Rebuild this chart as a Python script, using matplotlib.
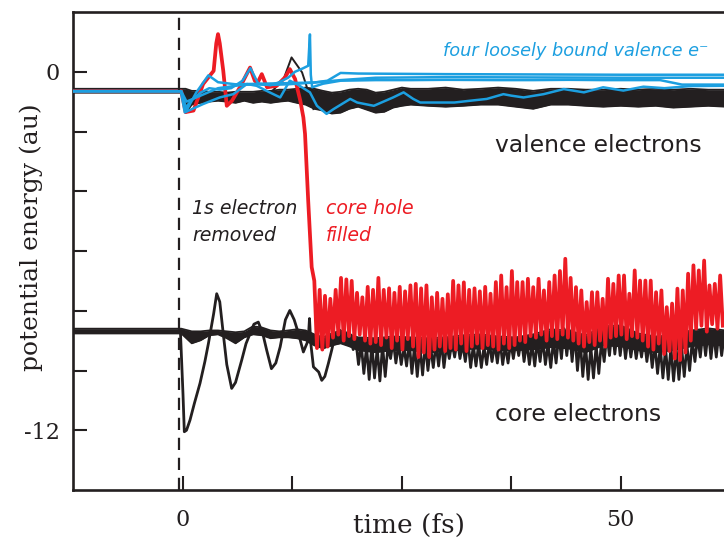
import numpy as np
import matplotlib.pyplot as plt

# ---- data (time in fs, energy in au) ----
# valence band (bundle of many black lines): upper / lower edge
val_t = [-12.6, -0.2, 0.3, 1, 2, 3, 4, 5, 6, 7, 8, 9, 10, 11, 12, 13, 14, 15, 16, 17, 18,
         19, 20, 21, 22, 23, 24, 25, 26, 28, 30, 32, 34, 36, 38, 40, 42, 44, 46, 48,
         50, 52, 54, 56, 58, 60, 62]
val_top = [-0.57, -0.57, -0.57, -0.64, -0.64, -0.67, -0.67, -0.70, -0.67, -0.67, -0.67, -0.64,
           -0.64, -0.60, -0.60, -0.57, -0.53, -0.57, -0.64, -0.70, -0.67, -0.60, -0.57, -0.60,
           -0.70, -0.67, -0.60, -0.53, -0.57, -0.57, -0.53, -0.60, -0.57, -0.53, -0.57, -0.64,
           -0.57, -0.57, -0.60, -0.60, -0.57, -0.60, -0.57, -0.60, -0.57, -0.60, -0.60]
val_bot = [-0.70, -0.70, -1.37, -1.10, -1.04, -1.00, -0.97, -1.00, -1.04, -0.97, -1.04, -1.00,
           -1.04, -1.00, -0.97, -1.04, -1.10, -1.24, -1.30, -1.40, -1.37, -1.24, -1.17, -1.27,
           -1.37, -1.34, -1.20, -1.14, -1.10, -1.14, -1.17, -1.14, -1.10, -1.10, -1.17, -1.24,
           -1.10, -1.10, -1.14, -1.17, -1.14, -1.17, -1.14, -1.20, -1.17, -1.14, -1.17]

# core band: upper / lower edge
core_t = [-12.6, -0.2, 1, 2, 3, 4, 5, 6, 7, 8, 9, 10, 11, 12, 13, 14, 15, 16, 17, 18, 19,
          20, 22, 24, 26, 28, 30, 32, 34, 36, 38, 40, 42, 44, 46, 48, 50, 52, 54, 56, 58, 60, 62]
core_top = [-8.60, -8.60, -8.69, -8.69, -8.66, -8.66, -8.69, -8.72, -8.69, -8.52, -8.56,
            -8.66, -8.69, -8.66, -8.62, -8.66, -8.79, -8.89, -8.76, -8.66, -8.79,
            -8.89, -8.92, -8.86, -8.89, -8.92, -8.89, -8.82, -8.79, -8.86, -8.89,
            -8.79, -8.62, -8.66, -8.82, -8.52, -8.49, -8.76, -8.86, -8.82, -8.66, -8.59, -8.66]
core_bot = [-8.76, -8.76, -9.09, -8.99, -8.82, -8.79, -8.92, -9.09, -8.89, -8.79, -8.82,
            -8.92, -8.89, -8.89, -8.92, -8.99, -9.16, -9.26, -9.16, -9.09, -9.19,
            -9.32, -9.39, -9.32, -9.32, -9.39, -9.36, -9.29, -9.26, -9.32, -9.32,
            -9.29, -9.22, -9.26, -9.39, -9.16, -9.19, -9.32, -9.39, -9.32, -9.19, -9.12, -9.16]

# thin black valence line with the spike near 12 fs
vspike_t = [9.9, 11.5, 12.4, 13.6, 14.1, 14.9]
vspike_E = [-0.74, -0.24, 0.48, -0.02, -0.47, -1.25]

# strongly oscillating core electron (thin black)
cbig_t = [-0.3, 0.0, 0.15, 0.4, 0.8, 1.3, 1.94, 2.5, 2.9, 3.5, 3.85, 4.2, 4.6, 5.0, 5.56,
          6.0, 6.7, 7.2, 7.66, 8.1, 8.6, 9.1, 9.56, 10.1, 10.6, 11.1, 11.7, 12.2, 12.7,
          13.2, 13.75, 14.3, 14.45, 14.6, 14.9, 15.5, 15.85, 16.2, 16.6]
cbig_E = [-8.66, -10.8, -12.05, -12.0, -11.66, -11.1, -10.43, -9.7, -9.1, -8.1, -7.43, -7.7,
          -8.77, -9.8, -10.6, -10.4, -9.66, -9.1, -8.77, -8.45, -8.38, -8.75, -9.32, -9.94,
          -9.75, -9.21, -8.3, -7.99, -8.3, -8.77, -9.38, -8.99, -8.26, -9.1, -9.88, -10.05,
          -10.33, -10.2, -9.77]
# its fast oscillation after 17 fs: troughs / crests, one pair per period
core_t0, core_period = 17.0, 0.61
core_lo = [-9.3, -8.9, -8.9, -9.1, -9.3, -9.8, -10.1, -10.3, -10.25, -10.35,
           -10.2, -9.6, -9.75, -9.8, -9.85, -10.1, -10.2, -10.15, -10.0, -9.9,
           -9.85, -9.9, -9.6, -9.55, -9.6, -9.7, -9.9, -9.85, -9.9, -9.8,
           -9.7, -9.75, -9.8, -9.75, -9.6, -9.5, -9.7, -9.8, -9.85, -9.7,
           -9.8, -9.9, -9.75, -9.6, -9.5, -9.7, -10.0, -10.2, -10.3, -10.25,
           -10.1, -9.7, -9.5, -9.45, -9.5, -9.6, -9.55, -9.6, -9.55, -9.7,
           -9.9, -10.1, -10.25, -10.3, -10.35, -10.3, -10.2, -10.0, -9.7, -9.55,
           -9.5, -9.6, -9.55, -9.5]
core_hi = [-8.9, -8.65, -8.7, -8.8, -9.0, -9.1, -9.2, -9.1, -9.25, -9.15,
           -9.2, -9.0, -9.1, -9.2, -9.05, -9.15, -9.2, -9.1, -9.2, -9.1,
           -9.0, -9.15, -9.05, -8.95, -9.1, -9.0, -9.15, -9.1, -9.2, -9.05,
           -9.1, -9.0, -9.15, -9.05, -9.0, -8.9, -9.05, -9.1, -9.0, -8.95,
           -9.1, -9.0, -8.8, -8.6, -8.65, -8.75, -8.95, -9.1, -9.2, -9.15,
           -9.0, -8.8, -8.55, -8.6, -8.75, -8.85, -8.9, -9.0, -8.9, -9.0,
           -9.1, -9.2, -9.25, -9.2, -9.3, -9.2, -9.15, -9.0, -8.85, -8.7,
           -8.65, -8.75, -8.7, -8.8]

# the electron that fills the core hole (red)
red_t = [-12.6, -0.2, 0.3, 1.2, 2.3, 3.5, 3.8, 4.0, 4.2, 4.6, 5.0, 5.6, 6.5, 7.66, 8.2, 8.5,
         9.0, 9.6, 10.7, 11.65, 12.2, 12.8, 13.4, 13.75, 13.94, 14.3, 14.7]
red_E = [-0.65, -0.65, -1.35, -1.3, -0.41, 0.03, 0.95, 1.26, 0.95, 0.03, -1.14, -0.97, -0.52,
         0.14, -0.3, -0.38, -0.08, -0.52, -0.47, -0.19, 0.09, -0.24, -0.97, -1.53, -2.08,
         -4.31, -6.54]
red_t0, red_period = 15.0, 0.61
red_hi = [-7.0, -7.3, -7.5, -7.6, -7.3, -6.9, -6.95, -7.0, -7.4, -7.55,
          -7.2, -7.3, -6.9, -7.3, -7.25, -7.4, -7.2, -7.35, -7.15, -7.1,
          -7.25, -7.15, -7.55, -7.4, -7.6, -7.45, -7.0, -7.15, -7.05, -7.3,
          -7.25, -7.35, -7.2, -7.43, -7.04, -6.82, -7.21, -6.67, -7.04, -7.04,
          -6.93, -7.21, -6.93, -7.32, -7.04, -6.82, -6.67, -6.26, -6.90, -7.21,
          -7.32, -7.71, -7.38, -7.38, -7.60, -6.93, -7.10, -6.82, -6.82, -7.43,
          -6.65, -6.99, -6.99, -6.99, -7.38, -7.32, -7.88, -7.76, -7.26, -7.32,
          -6.76, -6.48, -6.65, -6.32, -7.15, -7.10, -6.82]
red_lo = [-9.25, -9.3, -9.2, -8.9, -8.8, -9.0, -8.85, -8.95, -8.8, -9.0,
          -9.1, -9.05, -9.15, -8.9, -9.25, -9.0, -9.3, -8.95, -9.2, -9.55,
          -9.4, -9.55, -9.3, -9.2, -9.35, -9.25, -9.3, -9.1, -9.35, -9.2,
          -9.1, -9.25, -9.15, -9.2, -9.3, -9.1, -9.25, -9.15, -9.0, -9.05,
          -8.85, -8.9, -8.8, -9.0, -8.85, -8.95, -8.8, -8.9, -9.0, -9.1,
          -9.2, -9.05, -9.15, -9.0, -9.2, -8.9, -8.85, -8.8, -8.95, -8.85,
          -8.9, -9.0, -9.2, -9.3, -9.1, -9.45, -9.35, -9.6, -9.65, -9.4,
          -9.0, -8.6, -8.5, -8.7, -8.45, -8.6, -8.5]

# four loosely bound valence electrons (blue)
blue1_t = [-12.6, -0.2, 0.3, 1.0, 2.0, 3.0, 4.2, 5.5, 6.8, 7.7, 8.6, 10.0, 11.0, 12.0, 12.8,
           13.6, 14.3, 14.5, 14.6, 14.75, 16, 18, 22, 26, 30, 36, 40, 44, 48, 54.5, 57, 62]
blue1_E = [-0.65, -0.65, -1.2, -0.95, -0.7, -0.55, -0.6, -0.55, -0.3, 0.12, -0.4, -0.45,
           -0.35, -0.2, 0.0, 0.1, 0.2, 1.25, -0.1, -0.52, -0.4, -0.3, -0.28, -0.28, -0.27,
           -0.28, -0.28, -0.27, -0.28, -0.28, -0.43, -0.43]
blue2_t = [-12.6, -0.2, 0.4, 1.5, 2.9, 4.0, 6.0, 9.0, 12.0, 15.0, 16.5, 18.0, 20.0, 30, 40, 50, 62]
blue2_E = [-0.65, -0.65, -1.3, -0.7, -0.12, -0.35, -0.42, -0.40, -0.38, -0.36, -0.3, -0.04,
           -0.06, -0.08, -0.09, -0.10, -0.10]
blue3_t = [-12.6, -0.2, 0.4, 2.0, 4.0, 6.5, 8.0, 10.0, 12.0, 15.0, 18.0, 22.0, 30, 40, 50, 62]
blue3_E = [-0.65, -0.65, -1.0, -0.8, -0.55, -0.45, -0.42, -0.44, -0.42, -0.36, -0.28, -0.2,
           -0.18, -0.19, -0.2, -0.2]
blue4_t = [-12.6, -0.25, 0.2, 2.3, 4.2, 5.75, 7.3, 8.4, 9.9, 11.1, 12.2, 13.0, 14.5, 15.3,
           16.4, 17.2, 19.1, 19.9, 21.8, 24.0, 25.2, 26.3, 27.1, 29, 31, 32.8, 34.7, 36.6,
           37.5, 38.9, 41.2, 43.5, 45.8, 48.0, 50.3, 52.6, 55, 58, 62]
blue4_E = [-0.65, -0.65, -1.36, -1.08, -0.86, -0.75, -0.41, -0.47, -0.69, -0.86, -0.30,
           -0.41, -0.69, -1.14, -1.41, -1.25, -0.91, -1.03, -1.14, -0.86, -0.69, -0.91,
           -1.03, -1.03, -1.03, -0.97, -0.91, -0.75, -0.80, -0.86, -0.75, -0.58, -0.69,
           -0.52, -0.63, -0.50, -0.55, -0.48, -0.47]

x_ticks = [0, 12.5, 25, 37.5, 50]
x_ticklabels = ["0", "", "", "", "50"]
y_ticks = [-12, -10, -8, -6, -4, -2, 0]
y_ticklabels = ["-12", "", "", "", "", "", "0"]
removal_time = -0.42

RED = "#ED1C24"
BLUE = "#1C9FE0"
BLACK = "#231F20"


def zigzag(t0, period, first, second):
    """Interleave the two extremes read for each oscillation period."""
    k = np.arange(len(first))
    t = np.column_stack([t0 + period * k, t0 + period * (k + 0.5)]).ravel()
    return t, np.column_stack([first, second]).ravel()


fig = plt.figure(figsize=(7.24, 5.46), dpi=100)
ax = fig.add_axes([72.7 / 724, 56 / 546, 1 - 72.7 / 724, 478 / 546])

# bundles of black lines
ax.fill_between(val_t, val_top, val_bot, color=BLACK, lw=0, zorder=1)
ax.plot(val_t, val_top, color=BLACK, lw=1.3, zorder=1)
ax.plot(val_t, val_bot, color=BLACK, lw=1.3, zorder=1)
ax.fill_between(core_t, core_top, core_bot, color=BLACK, lw=0, zorder=1)
ax.plot(core_t, core_top, color=BLACK, lw=1.3, zorder=1)
ax.plot(core_t, core_bot, color=BLACK, lw=1.3, zorder=1)

ax.plot(vspike_t, vspike_E, color=BLACK, lw=1.4, zorder=2)
ct, cE = zigzag(core_t0, core_period, core_lo, core_hi)
ax.plot(np.r_[cbig_t, ct], np.r_[cbig_E, cE], color=BLACK, lw=2.0, zorder=2)

# red electron
rt, rE = zigzag(red_t0, red_period, red_hi, red_lo)
ax.plot(np.r_[red_t, rt], np.r_[red_E, rE], color=RED, lw=2.7, zorder=3)

# blue electrons
for bt, bE in [(blue2_t, blue2_E), (blue3_t, blue3_E), (blue1_t, blue1_E), (blue4_t, blue4_E)]:
    ax.plot(bt, bE, color=BLUE, lw=1.8, zorder=4)

ax.axvline(removal_time, color=BLACK, lw=1.6, ls=(0, (5.5, 3.5)), zorder=5)

ax.set_xlim(-12.6, 61.8)
ax.set_ylim(-14, 2)
ax.set_xticks(x_ticks)
ax.set_xticklabels(x_ticklabels)
ax.set_yticks(y_ticks)
ax.set_yticklabels(y_ticklabels)
ax.spines["right"].set_visible(False)
for s in ["left", "bottom", "top"]:
    ax.spines[s].set_linewidth(1.9)
    ax.spines[s].set_color(BLACK)
ax.tick_params(direction="in", length=10, width=1.5, color=BLACK, labelcolor=BLACK,
               labelsize=16, right=False, top=False)
ax.tick_params(axis="x", pad=14)
ax.tick_params(axis="y", pad=9)
for lab in ax.get_xticklabels() + ax.get_yticklabels():
    lab.set_family("DejaVu Serif")

ax.set_xlabel("time (fs)", family="DejaVu Serif", fontsize=19, color=BLACK)
ax.set_ylabel("potential energy (au)", family="DejaVu Serif", fontsize=18, color=BLACK)
ax.xaxis.set_label_coords(0.5166, -0.047)
ax.yaxis.set_label_coords(-0.045, 0.529)

sans = ["DejaVu Sans"]
ax.text(35.66, -2.70, "valence electrons", family=sans, fontsize=16.8, color=BLACK)
ax.text(35.66, -11.70, "core electrons", family=sans, fontsize=16.8, color=BLACK)
ax.text(1.03, -4.75, "1s electron", family=sans, style="italic", fontsize=13.6, color=BLACK)
ax.text(1.03, -5.65, "removed", family=sans, style="italic", fontsize=13.6, color=BLACK)
ax.text(16.34, -4.75, "core hole", family=sans, style="italic", fontsize=13.6, color=RED)
ax.text(16.34, -5.65, "filled", family=sans, style="italic", fontsize=13.6, color=RED)
ax.text(29.7, 0.53, "four loosely bound valence e\u207b", family=sans, style="italic",
        fontsize=12.8, color=BLUE)

fig.savefig("out.png", dpi=100)
